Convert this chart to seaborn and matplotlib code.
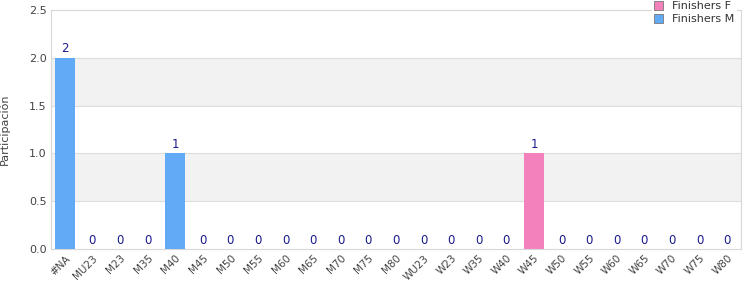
import matplotlib
matplotlib.use("Agg")
import matplotlib.pyplot as plt
import seaborn as sns
import pandas as pd
import numpy as np
from matplotlib.patches import Patch

categories = ["#NA", "MU23", "M23", "M35", "M40", "M45", "M50", "M55", "M60", "M65",
              "M70", "M75", "M80", "WU23", "W23", "W35", "W40", "W45", "W50", "W55",
              "W60", "W65", "W70", "W75", "W80"]
finishers_m = [2, 0, 0, 0, 1, 0, 0, 0, 0, 0, 0, 0, 0, 0, 0, 0, 0, 0, 0, 0, 0, 0, 0, 0, 0]
finishers_f = [0, 0, 0, 0, 0, 0, 0, 0, 0, 0, 0, 0, 0, 0, 0, 0, 0, 1, 0, 0, 0, 0, 0, 0, 0]

blue = "#62aaf5"
pink = "#f381bc"

df = pd.DataFrame({"cat": categories, "M": finishers_m, "F": finishers_f})
df["total"] = df["M"] + df["F"]

sns.set_theme(style="white")
plt.rcParams['font.family'] = ['DejaVu Sans']

fig = plt.figure(figsize=(7.5, 3), dpi=100)
ax = fig.add_axes([0.068, 0.17, 0.92, 0.797])

# background bands
for i, lo in enumerate(np.arange(0, 2.5, 0.5)):
    if i % 2 == 1:
        ax.axhspan(lo, lo + 0.5, color="#f2f2f2", zorder=0, lw=0)
for y in np.arange(0.5, 2.5, 0.5):
    ax.axhline(y, color="#dddddd", lw=0.8, zorder=0.5)

# stacked: total (F on top) then M
sns.barplot(data=df, x="cat", y="total", color=pink, saturation=1, width=0.72,
            linewidth=0, edgecolor="none", ax=ax, zorder=2)
sns.barplot(data=df, x="cat", y="M", color=blue, saturation=1, width=0.72,
            linewidth=0, edgecolor="none", ax=ax, zorder=3)

for i, v in enumerate(df["total"]):
    ax.text(i, v + 0.025, f"{v}", ha="center", va="bottom", color="#1a1a8c", fontsize=8.5, zorder=5)

ax.set_ylim(0, 2.5)
ax.set_xlim(-0.5, len(categories) - 0.5)
ax.set_yticks(np.arange(0, 2.51, 0.5))
ax.set_yticklabels([f"{v:.1f}" for v in np.arange(0, 2.51, 0.5)], fontsize=8, color="#444444")
ax.set_xticks(range(len(categories)))
ax.set_xticklabels(categories, rotation=45, ha="right", rotation_mode="anchor", fontsize=7.5, color="#444444")
ax.tick_params(axis="both", length=0, pad=3)
ax.set_xlabel("")
ax.set_ylabel("Participación", fontsize=8, color="#444444")
ax.yaxis.set_label_coords(-0.06, 0.5)

for s in ax.spines.values():
    s.set_color("#d8d8d8")
    s.set_linewidth(0.8)

handles = [Patch(facecolor=pink, edgecolor="#777777", lw=0.6, label="Finishers F"),
           Patch(facecolor=blue, edgecolor="#777777", lw=0.6, label="Finishers M")]
leg = ax.legend(handles=handles, loc="upper right", bbox_to_anchor=(0.993, 1.045),
                frameon=True, fontsize=8, handlelength=0.8, handleheight=0.8,
                borderpad=0.2, labelspacing=0.25, handletextpad=0.8, borderaxespad=0)
leg.get_frame().set_facecolor("white")
leg.get_frame().set_edgecolor("white")
leg.get_frame().set_alpha(1)
leg.set_zorder(10)
for t in leg.get_texts():
    t.set_color("#333333")

fig.savefig("out.png", dpi=100)
